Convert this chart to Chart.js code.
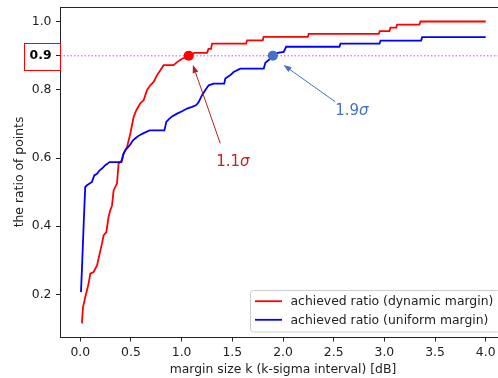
<!DOCTYPE html>
<html>
<head>
<meta charset="utf-8">
<script src="https://cdn.jsdelivr.net/npm/chart.js@4.4.1/dist/chart.umd.min.js"></script>
<style>
html, body { margin: 0; padding: 0; background: #fff; overflow: hidden; width: 498px; height: 378px; }
canvas { display: block; }
</style>
</head>
<body>
<canvas id="myChart" width="520" height="378"></canvas>
<script>
// margin size k and achieved ratio
const dynK = [0.01, 0.017, 0.027, 0.049, 0.082, 0.099, 0.131, 0.165, 0.214, 0.230, 0.257, 0.279, 0.296, 0.313, 0.329, 0.362, 0.378, 0.412, 0.427, 0.461, 0.494, 0.526, 0.553, 0.592, 0.625, 0.658, 0.691, 0.724, 0.757, 0.790, 0.822, 0.92, 0.955, 1.004, 1.069, 1.125, 1.25, 1.265, 1.29, 1.30, 1.636, 1.646, 1.80, 1.809, 2.245, 2.254, 2.945, 2.955, 3.05, 3.060, 3.116, 3.126, 3.346, 3.356, 4.0];
const dynRatio = [0.118, 0.121, 0.163, 0.192, 0.232, 0.261, 0.266, 0.285, 0.349, 0.373, 0.383, 0.427, 0.447, 0.461, 0.505, 0.525, 0.584, 0.593, 0.613, 0.632, 0.672, 0.720, 0.740, 0.760, 0.769, 0.799, 0.813, 0.823, 0.843, 0.857, 0.872, 0.872, 0.881, 0.891, 0.898, 0.908, 0.908, 0.92, 0.92, 0.935, 0.935, 0.945, 0.945, 0.955, 0.955, 0.964, 0.964, 0.972, 0.972, 0.982, 0.982, 0.991, 0.991, 1.0, 1.0];

const uniK = [0.007, 0.02, 0.035, 0.049, 0.066, 0.115, 0.138, 0.165, 0.191, 0.214, 0.247, 0.289, 0.405, 0.421, 0.444, 0.487, 0.520, 0.553, 0.585, 0.625, 0.684, 0.83, 0.849, 0.872, 0.905, 0.955, 1.004, 1.053, 1.103, 1.145, 1.168, 1.201, 1.234, 1.267, 1.316, 1.42, 1.431, 1.481, 1.513, 1.579, 1.81, 1.826, 1.859, 1.90, 1.948, 2.007, 2.031, 2.557, 2.567, 2.952, 2.962, 3.363, 3.373, 4.0];
const uniRatio = [0.207, 0.30, 0.417, 0.515, 0.520, 0.530, 0.549, 0.554, 0.564, 0.569, 0.579, 0.588, 0.588, 0.608, 0.623, 0.637, 0.652, 0.660, 0.667, 0.673, 0.681, 0.681, 0.706, 0.713, 0.722, 0.730, 0.737, 0.745, 0.750, 0.755, 0.764, 0.784, 0.799, 0.813, 0.818, 0.818, 0.833, 0.843, 0.852, 0.862, 0.862, 0.879, 0.887, 0.896, 0.908, 0.911, 0.926, 0.926, 0.935, 0.935, 0.944, 0.944, 0.954, 0.954];

const seriesNames = ['achieved ratio (dynamic margin)', 'achieved ratio (uniform margin)'];
const seriesColors = ['#ff0000', '#0000ff'];

const xTicks = [0, 0.5, 1.0, 1.5, 2.0, 2.5, 3.0, 3.5, 4.0];
const yTicks = [0.2, 0.4, 0.6, 0.8, 0.9, 1.0];

// target ratio and the k where each curve reaches it
const target = 0.9;
const markK = [1.07, 1.9];
const markColors = ['#ff0000', '#4472c4'];
const noteText = ['1.1', '1.9'];
const noteColors = ['#d01c1c', '#4472c4'];
const arrowColors = ['#b22222', '#4472c4'];
const arrowTipK = [1.111, 2.005];
const arrowTipR = [0.8725, 0.8725];
const arrowTailK = [1.381, 2.515];
const arrowTailR = [0.643, 0.765];
const noteK = [1.341, 2.515];
const noteR = [0.5765, 0.726];

const FONT = '"DejaVu Sans"';
Chart.defaults.font.family = FONT;
Chart.defaults.font.size = 12.4;

const toPoints = (xs, ys) => xs.map((x, i) => ({ x: x, y: ys[i] }));

function drawArrow(ctx, x0, y0, x1, y1, color) {
    const ang = Math.atan2(y1 - y0, x1 - x0);
    const hl = 8, hw = 3;
    const bx = x1 - hl * Math.cos(ang), by = y1 - hl * Math.sin(ang);
    ctx.save();
    ctx.strokeStyle = color;
    ctx.fillStyle = color;
    ctx.lineWidth = 1;
    ctx.beginPath();
    ctx.moveTo(x0, y0);
    ctx.lineTo(bx, by);
    ctx.stroke();
    ctx.beginPath();
    ctx.moveTo(x1, y1);
    ctx.lineTo(bx + hw * Math.sin(ang), by - hw * Math.cos(ang));
    ctx.lineTo(bx - hw * Math.sin(ang), by + hw * Math.cos(ang));
    ctx.closePath();
    ctx.fill();
    ctx.restore();
}

function roundRect(ctx, x, y, w, h, r) {
    ctx.beginPath();
    ctx.moveTo(x + r, y);
    ctx.lineTo(x + w - r, y);
    ctx.arcTo(x + w, y, x + w, y + r, r);
    ctx.lineTo(x + w, y + h - r);
    ctx.arcTo(x + w, y + h, x + w - r, y + h, r);
    ctx.lineTo(x + r, y + h);
    ctx.arcTo(x, y + h, x, y + h - r, r);
    ctx.lineTo(x, y + r);
    ctx.arcTo(x, y, x + r, y, r);
    ctx.closePath();
}

const overlay = {
    id: 'overlay',
    beforeDatasetsDraw(chart) {
        // dotted target line
        const { ctx, chartArea: a, scales: { y } } = chart;
        const yy = y.getPixelForValue(target);
        ctx.save();
        ctx.strokeStyle = '#ee82ee';
        ctx.lineWidth = 1.5;
        ctx.setLineDash([1.5, 2]);
        ctx.beginPath();
        ctx.moveTo(a.left, yy);
        ctx.lineTo(a.right, yy);
        ctx.stroke();
        ctx.restore();
    },
    afterDatasetsDraw(chart) {
        const { ctx, scales: { x, y } } = chart;
        for (let i = 0; i < noteText.length; i++) {
            drawArrow(ctx,
                x.getPixelForValue(arrowTailK[i]), y.getPixelForValue(arrowTailR[i]),
                x.getPixelForValue(arrowTipK[i]), y.getPixelForValue(arrowTipR[i]),
                arrowColors[i]);
            const tx = x.getPixelForValue(noteK[i]);
            const ty = y.getPixelForValue(noteR[i]);
            ctx.save();
            ctx.fillStyle = noteColors[i];
            ctx.textBaseline = 'alphabetic';
            ctx.textAlign = 'left';
            ctx.font = '15px ' + FONT;
            ctx.fillText(noteText[i], tx, ty);
            const w = ctx.measureText(noteText[i]).width;
            ctx.font = 'italic 15px ' + FONT;
            ctx.fillText('σ', tx + w, ty);
            ctx.restore();
        }
    },
    afterDraw(chart) {
        const { ctx, chartArea: a, scales: { y } } = chart;
        ctx.save();
        // axes frame
        ctx.strokeStyle = '#222';
        ctx.lineWidth = 1;
        ctx.strokeRect(Math.round(a.left) + 0.5, Math.round(a.top) + 0.5,
            Math.round(a.right) - Math.round(a.left), Math.round(a.bottom) - Math.round(a.top) - 1);

        // red box round the 0.9 tick label
        const yy = Math.round(y.getPixelForValue(target));
        ctx.strokeStyle = '#ff0000';
        ctx.strokeRect(24.5, yy - 12.5, Math.round(a.left) - 24, 27);

        // legend, lower right inside the axes
        const lw = 250, lh = 41.5;
        const lx = a.right - 5.5 - lw, ly = a.bottom - 5.5 - lh;
        roundRect(ctx, lx, ly, lw, lh, 3);
        ctx.fillStyle = 'rgba(255,255,255,0.8)';
        ctx.fill();
        ctx.strokeStyle = '#cccccc';
        ctx.stroke();
        ctx.font = '12.4px ' + FONT;
        ctx.textBaseline = 'middle';
        ctx.textAlign = 'left';
        for (let i = 0; i < seriesNames.length; i++) {
            const ry = ly + 10.7 + i * 18.6;
            ctx.strokeStyle = seriesColors[i];
            ctx.lineWidth = 1.8;
            ctx.beginPath();
            ctx.moveTo(lx + 4.5, ry);
            ctx.lineTo(lx + 31.5, ry);
            ctx.stroke();
            ctx.fillStyle = '#222';
            ctx.fillText(seriesNames[i], lx + 40, ry + 0.5);
        }
        ctx.restore();
    }
};

const ctx = document.getElementById('myChart').getContext('2d');
new Chart(ctx, {
    type: 'line',
    data: {
        datasets: [
            { label: seriesNames[0], data: toPoints(dynK, dynRatio), borderColor: seriesColors[0], borderWidth: 1.8, pointRadius: 0, tension: 0, order: 2 },
            { label: seriesNames[1], data: toPoints(uniK, uniRatio), borderColor: seriesColors[1], borderWidth: 1.8, pointRadius: 0, tension: 0, order: 1 },
            { data: [{ x: markK[0], y: target }], showLine: false, pointRadius: 5, backgroundColor: markColors[0], borderWidth: 0, order: 0 },
            { data: [{ x: markK[1], y: target }], showLine: false, pointRadius: 5, backgroundColor: markColors[1], borderWidth: 0, order: 0 }
        ]
    },
    options: {
        responsive: false,
        animation: false,
        devicePixelRatio: 1,
        layout: { padding: { left: 0, top: 6.5, right: 14, bottom: 0 } },
        plugins: { legend: { display: false }, tooltip: { enabled: false } },
        scales: {
            x: {
                type: 'linear',
                min: -0.2,
                max: 4.2,
                afterBuildTicks: s => { s.ticks = xTicks.map(v => ({ value: v })); },
                afterFit: s => { s.height = 40.5; s.paddingLeft = 0; s.paddingRight = 0; },
                grid: { display: true, drawOnChartArea: false, drawTicks: true, tickLength: 4, color: '#222' },
                border: { display: false },
                ticks: { color: '#222', padding: 3.4, maxRotation: 0, autoSkip: false, callback: v => v.toFixed(1) },
                title: { display: true, text: 'margin size k (k-sigma interval) [dB]', color: '#222', padding: { top: 0, bottom: 1 } }
            },
            y: {
                type: 'linear',
                min: 0.074,
                max: 1.044,
                afterBuildTicks: s => { s.ticks = yTicks.map(v => ({ value: v })); },
                afterFit: s => { s.width = 60; s.paddingTop = 0; s.paddingBottom = 0; },
                grid: { display: true, drawOnChartArea: false, drawTicks: true, tickLength: 4, color: '#222' },
                border: { display: false },
                ticks: {
                    padding: 4.5,
                    autoSkip: false,
                    color: c => (c.tick && c.tick.value === target ? '#000' : '#222'),
                    font: c => ({ size: 12.4, weight: c.tick && c.tick.value === target ? 'bold' : 'normal' }),
                    callback: v => v.toFixed(1)
                },
                title: { display: true, text: 'the ratio of points', color: '#222', padding: { top: 12, bottom: 0 } }
            }
        }
    },
    plugins: [overlay]
});
</script>
</body>
</html>
